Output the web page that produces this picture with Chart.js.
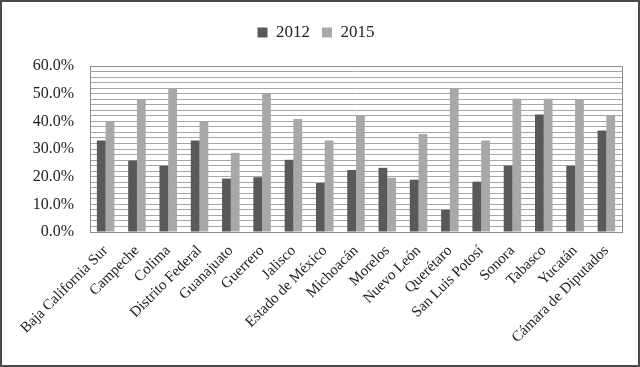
<!DOCTYPE html>
<html>
<head>
<meta charset="utf-8">
<script src="https://cdn.jsdelivr.net/npm/chart.js@4/dist/chart.umd.min.js"></script>
<style>
  html, body { margin: 0; padding: 0; background: #fff; }
  #wrap { width: 640px; height: 367px; box-sizing: border-box; border: 2px solid #4a4a4a; position: relative; }
</style>
</head>
<body>
<div id="wrap"><canvas id="chart" width="636" height="363"></canvas></div>
<script>
const states = ['Baja California Sur', 'Campeche', 'Colima', 'Distrito Federal', 'Guanajuato',
    'Guerrero', 'Jalisco', 'Estado de México', 'Michoacán', 'Morelos', 'Nuevo León',
    'Querétaro', 'San Luis Potosí', 'Sonora', 'Tabasco', 'Yucatán', 'Cámara de Diputados'];
const values2012 = [33.1, 25.8, 23.9, 33.1, 19.3, 19.8, 26.1, 17.7, 22.4, 23.2, 18.9, 8.0, 18.2, 24.0, 42.5, 23.9, 36.7];
const values2015 = [40.0, 47.9, 51.8, 39.8, 28.6, 49.9, 40.8, 33.1, 42.2, 19.6, 35.4, 51.8, 33.1, 48.2, 48.2, 47.9, 42.2];

const serif = "'Liberation Serif', 'DejaVu Serif', serif";

const ctx = document.getElementById('chart').getContext('2d');
new Chart(ctx, {
    type: 'bar',
    data: {
        labels: states,
        datasets: [
            { label: '2012', data: values2012, backgroundColor: '#595959', borderWidth: 0 },
            { label: '2015', data: values2015, backgroundColor: '#a8a8a8', borderWidth: 0 }
        ]
    },
    options: {
        responsive: false,
        animation: false,
        layout: { padding: { left: 8, right: 16, top: 10, bottom: 0 } },
        datasets: { bar: { categoryPercentage: 0.56, barPercentage: 1 } },
        plugins: {
            tooltip: { enabled: false },
            legend: {
                position: 'top',
                labels: {
                    boxWidth: 10, boxHeight: 10, padding: 12,
                    color: '#222',
                    font: { family: serif, size: 17 }
                }
            }
        },
        scales: {
            x: {
                grid: { display: false },
                border: { color: '#8c8c8c' },
                ticks: {
                    color: '#222', autoSkip: false, maxRotation: 45, minRotation: 45, padding: 2,
                    font: { family: serif, size: 15 }
                },
                afterFit: s => { s.height = 133; }
            },
            y: {
                min: 0, max: 60,
                grid: { color: '#a6a6a6', drawTicks: false },
                border: { color: '#8c8c8c' },
                ticks: {
                    stepSize: 2, autoSkip: false, padding: 16, color: '#222',
                    font: { family: serif, size: 16 },
                    callback: v => (v % 10 === 0 ? v.toFixed(1) + '%' : '')
                },
                afterFit: s => { s.width = 80; }
            }
        }
    },
    plugins: [{
        id: 'legendGap',
        beforeInit(chart) {
            const fit = chart.legend.fit;
            chart.legend.fit = function () {
                fit.call(this);
                this.height += 15;
            };
        }
    }, {
        id: 'frame',
        afterDraw(chart) {
            const a = chart.chartArea, c = chart.ctx;
            c.save();
            c.strokeStyle = '#8c8c8c';
            c.lineWidth = 1;
            c.strokeRect(a.left + 0.5, a.top + 0.5, a.right - a.left, a.bottom - a.top);
            c.restore();
        }
    }]
});
</script>
</body>
</html>
